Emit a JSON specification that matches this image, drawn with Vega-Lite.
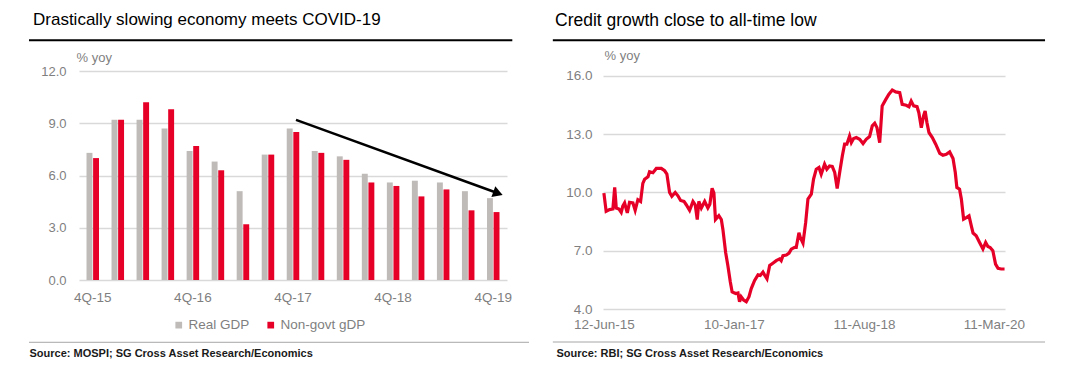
{
  "$schema": "https://vega.github.io/schema/vega-lite/v6.json",
  "background": "white",
  "padding": {"left": 27, "top": 11, "right": 5, "bottom": 5},
  "columns": 2,
  "align": "none",
  "spacing": 21,
  "config": {
    "font": "Liberation Sans",
    "view": {"stroke": null},
    "axis": {"labelFont": "Liberation Sans", "titleFont": "Liberation Sans"},
    "legend": {"labelFont": "Liberation Sans"},
    "title": {"font": "Liberation Sans"}
  },
  "concat": [
    {
      "width": 428,
      "height": 209,
      "title": {"text": "Drastically slowing economy meets COVID-19", "anchor": "start", "frame": "group", "dx": -46, "fontSize": 17, "fontWeight": "normal", "color": "#000000", "offset": 10},
      "resolve": {"scale": {"x": "independent"}},
      "layer": [
        {
          "data": {"values": [
            {"q": "4Q-15", "s": "Real GDP", "v": 7.3}, {"q": "4Q-15", "s": "Non-govt gDP", "v": 7.0},
            {"q": "1Q-16", "s": "Real GDP", "v": 9.2}, {"q": "1Q-16", "s": "Non-govt gDP", "v": 9.2},
            {"q": "2Q-16", "s": "Real GDP", "v": 9.2}, {"q": "2Q-16", "s": "Non-govt gDP", "v": 10.2},
            {"q": "3Q-16", "s": "Real GDP", "v": 8.7}, {"q": "3Q-16", "s": "Non-govt gDP", "v": 9.8},
            {"q": "4Q-16", "s": "Real GDP", "v": 7.4}, {"q": "4Q-16", "s": "Non-govt gDP", "v": 7.7},
            {"q": "1Q-17", "s": "Real GDP", "v": 6.8}, {"q": "1Q-17", "s": "Non-govt gDP", "v": 6.3},
            {"q": "2Q-17", "s": "Real GDP", "v": 5.1}, {"q": "2Q-17", "s": "Non-govt gDP", "v": 3.2},
            {"q": "3Q-17", "s": "Real GDP", "v": 7.2}, {"q": "3Q-17", "s": "Non-govt gDP", "v": 7.2},
            {"q": "4Q-17", "s": "Real GDP", "v": 8.7}, {"q": "4Q-17", "s": "Non-govt gDP", "v": 8.5},
            {"q": "1Q-18", "s": "Real GDP", "v": 7.4}, {"q": "1Q-18", "s": "Non-govt gDP", "v": 7.3},
            {"q": "2Q-18", "s": "Real GDP", "v": 7.1}, {"q": "2Q-18", "s": "Non-govt gDP", "v": 6.9},
            {"q": "3Q-18", "s": "Real GDP", "v": 6.1}, {"q": "3Q-18", "s": "Non-govt gDP", "v": 5.6},
            {"q": "4Q-18", "s": "Real GDP", "v": 5.6}, {"q": "4Q-18", "s": "Non-govt gDP", "v": 5.4},
            {"q": "1Q-19", "s": "Real GDP", "v": 5.7}, {"q": "1Q-19", "s": "Non-govt gDP", "v": 4.8},
            {"q": "2Q-19", "s": "Real GDP", "v": 5.6}, {"q": "2Q-19", "s": "Non-govt gDP", "v": 5.2},
            {"q": "3Q-19", "s": "Real GDP", "v": 5.1}, {"q": "3Q-19", "s": "Non-govt gDP", "v": 4.0},
            {"q": "4Q-19", "s": "Real GDP", "v": 4.7}, {"q": "4Q-19", "s": "Non-govt gDP", "v": 3.9}
          ]},
          "mark": {"type": "bar"},
          "encoding": {
            "x": {"field": "q", "type": "nominal", "sort": null,
              "scale": {"paddingInner": 0.5, "paddingOuter": 0.3},
              "axis": {"values": ["4Q-15", "4Q-16", "4Q-17", "4Q-18", "4Q-19"], "labelAngle": 0, "ticks": false, "domain": false, "labelPadding": 10, "labelFontSize": 13.5, "labelColor": "#7f7f7f",
                "title": "Source: MOSPI; SG Cross Asset Research/Economics", "titleAnchor": "start", "titleAlign": "left", "titleBaseline": "middle", "titleX": -50, "titleY": 73, "titleFontSize": 11, "titleFontWeight": "bold", "titleColor": "#1a1a1a"}},
            "xOffset": {"field": "s", "type": "nominal", "sort": ["Real GDP", "Non-govt gDP"], "scale": {"paddingInner": 0.1}},
            "y": {"field": "v", "type": "quantitative", "scale": {"domain": [0, 12], "nice": false},
              "axis": {"values": [0, 3, 6, 9, 12], "format": ".1f", "ticks": false, "domain": false, "grid": true, "gridColor": "#d9d9d9", "gridWidth": 1.5, "labelPadding": 13, "labelFontSize": 13, "labelColor": "#7f7f7f",
                "title": "% yoy", "titleAngle": 0, "titleAlign": "left", "titleBaseline": "middle", "titleX": -3, "titleY": -14, "titleFontSize": 13, "titleFontWeight": "normal", "titleColor": "#7f7f7f"}},
            "color": {"field": "s", "type": "nominal", "sort": ["Real GDP", "Non-govt gDP"],
              "scale": {"domain": ["Real GDP", "Non-govt gDP"], "range": ["#bfbbb9", "#e60028"]},
              "legend": {"orient": "none", "legendX": 93, "legendY": 247, "direction": "horizontal", "title": null, "symbolType": "square", "symbolSize": 45, "symbolStrokeWidth": 0, "labelFontSize": 13.5, "labelColor": "#7f7f7f", "columnPadding": 14, "labelOffset": 3}}
          }
        },
        {
          "data": {"values": [{}]},
          "layer": [
            {
              "mark": {"type": "rule", "color": "#000000", "strokeWidth": 2.5, "clip": false},
              "encoding": {
                "x": {"datum": 8.12, "type": "quantitative", "scale": {"domain": [-0.55, 16.55], "nice": false, "zero": false}, "axis": null},
                "x2": {"datum": 16.19},
                "y": {"datum": 9.19, "type": "quantitative", "scale": {"domain": [0, 12], "nice": false}},
                "y2": {"datum": 4.98}
              }
            },
            {
              "mark": {"type": "point", "shape": "triangle-right", "filled": true, "color": "#000000", "size": 130, "angle": 20, "opacity": 1, "clip": false},
              "encoding": {
                "x": {"datum": 16.19, "type": "quantitative", "scale": {"domain": [-0.55, 16.55], "nice": false, "zero": false}, "axis": null},
                "y": {"datum": 4.98, "type": "quantitative", "scale": {"domain": [0, 12], "nice": false}}
              }
            },
            {
              "mark": {"type": "rule", "color": "#000000", "strokeWidth": 2, "clip": false},
              "encoding": {
                "x": {"datum": -2.548, "type": "quantitative", "scale": {"domain": [-0.55, 16.55], "nice": false, "zero": false}, "axis": null},
                "x2": {"datum": 16.762},
                "y": {"datum": 13.76, "type": "quantitative", "scale": {"domain": [0, 12], "nice": false}}
              }
            },
            {
              "mark": {"type": "rule", "color": "#a6a6a6", "strokeWidth": 1, "clip": false},
              "encoding": {
                "x": {"datum": -2.548, "type": "quantitative", "scale": {"domain": [-0.55, 16.55], "nice": false, "zero": false}, "axis": null},
                "x2": {"datum": 17.429},
                "y": {"datum": -3.576, "type": "quantitative", "scale": {"domain": [0, 12], "nice": false}}
              }
            }
          ]
        }
      ]
    },
    {
      "width": 402,
      "height": 238,
      "title": {"text": "Credit growth close to all-time low", "anchor": "start", "frame": "group", "dx": -48, "fontSize": 17.5, "fontWeight": "normal", "color": "#000000", "offset": 10},
      "layer": [
        {
          "data": {"values": [
            {"d": "2015-06-12", "v": 9.97}, {"d": "2015-06-22", "v": 9.03}, {"d": "2015-07-07", "v": 9.12}, {"d": "2015-07-22", "v": 9.15},
            {"d": "2015-07-30", "v": 10.27}, {"d": "2015-08-06", "v": 9.2}, {"d": "2015-08-18", "v": 9.15}, {"d": "2015-08-28", "v": 8.98},
            {"d": "2015-09-04", "v": 9.3}, {"d": "2015-09-12", "v": 9.46}, {"d": "2015-09-24", "v": 8.95}, {"d": "2015-10-04", "v": 9.49},
            {"d": "2015-10-19", "v": 9.46}, {"d": "2015-10-29", "v": 9.08}, {"d": "2015-11-10", "v": 9.63}, {"d": "2015-11-22", "v": 9.54},
            {"d": "2015-12-02", "v": 10.47}, {"d": "2015-12-10", "v": 10.68}, {"d": "2015-12-25", "v": 10.81}, {"d": "2016-01-01", "v": 11.07},
            {"d": "2016-01-16", "v": 11.02}, {"d": "2016-01-31", "v": 11.24}, {"d": "2016-02-22", "v": 11.24}, {"d": "2016-03-08", "v": 11.12},
            {"d": "2016-03-18", "v": 10.95}, {"d": "2016-03-30", "v": 10.0}, {"d": "2016-04-09", "v": 9.8}, {"d": "2016-04-24", "v": 10.0},
            {"d": "2016-05-06", "v": 9.83}, {"d": "2016-05-18", "v": 9.59}, {"d": "2016-06-02", "v": 9.54}, {"d": "2016-06-12", "v": 9.37},
            {"d": "2016-06-27", "v": 9.08}, {"d": "2016-07-12", "v": 9.54}, {"d": "2016-07-22", "v": 9.37}, {"d": "2016-07-31", "v": 8.61},
            {"d": "2016-08-07", "v": 9.54}, {"d": "2016-08-18", "v": 9.2}, {"d": "2016-09-02", "v": 9.54}, {"d": "2016-09-16", "v": 9.2},
            {"d": "2016-09-25", "v": 9.4}, {"d": "2016-10-05", "v": 10.22}, {"d": "2016-10-13", "v": 9.97}, {"d": "2016-10-20", "v": 8.61},
            {"d": "2016-11-04", "v": 8.81}, {"d": "2016-11-15", "v": 8.61}, {"d": "2016-11-22", "v": 8.1}, {"d": "2016-12-04", "v": 6.92},
            {"d": "2016-12-14", "v": 6.24}, {"d": "2016-12-25", "v": 5.39}, {"d": "2017-01-02", "v": 4.88}, {"d": "2017-01-18", "v": 4.8},
            {"d": "2017-01-28", "v": 4.83}, {"d": "2017-02-04", "v": 4.37}, {"d": "2017-02-11", "v": 4.63}, {"d": "2017-02-22", "v": 4.46},
            {"d": "2017-03-06", "v": 4.37}, {"d": "2017-03-18", "v": 4.63}, {"d": "2017-03-28", "v": 5.05}, {"d": "2017-04-12", "v": 5.47},
            {"d": "2017-04-27", "v": 5.76}, {"d": "2017-05-07", "v": 5.73}, {"d": "2017-05-19", "v": 5.9}, {"d": "2017-05-26", "v": 5.76},
            {"d": "2017-06-06", "v": 5.56}, {"d": "2017-06-18", "v": 6.24}, {"d": "2017-07-02", "v": 6.36}, {"d": "2017-07-17", "v": 6.49},
            {"d": "2017-08-01", "v": 6.58}, {"d": "2017-08-08", "v": 6.49}, {"d": "2017-08-16", "v": 6.75}, {"d": "2017-08-31", "v": 6.78},
            {"d": "2017-09-12", "v": 6.88}, {"d": "2017-09-22", "v": 7.08}, {"d": "2017-10-07", "v": 7.17}, {"d": "2017-10-14", "v": 7.17},
            {"d": "2017-10-26", "v": 7.93}, {"d": "2017-11-01", "v": 7.68}, {"d": "2017-11-13", "v": 7.39}, {"d": "2017-11-25", "v": 8.46},
            {"d": "2017-12-05", "v": 9.66}, {"d": "2017-12-20", "v": 9.91}, {"d": "2017-12-30", "v": 10.69}, {"d": "2018-01-11", "v": 11.2},
            {"d": "2018-01-23", "v": 11.29}, {"d": "2018-02-02", "v": 10.94}, {"d": "2018-02-17", "v": 11.46}, {"d": "2018-02-27", "v": 11.2},
            {"d": "2018-03-11", "v": 11.37}, {"d": "2018-03-23", "v": 11.34}, {"d": "2018-04-03", "v": 11.03}, {"d": "2018-04-14", "v": 10.21},
            {"d": "2018-04-25", "v": 11.03}, {"d": "2018-05-07", "v": 11.89}, {"d": "2018-05-17", "v": 12.49}, {"d": "2018-05-27", "v": 12.49},
            {"d": "2018-06-08", "v": 12.91}, {"d": "2018-06-16", "v": 12.57}, {"d": "2018-06-26", "v": 12.78}, {"d": "2018-07-08", "v": 12.83},
            {"d": "2018-07-23", "v": 12.74}, {"d": "2018-08-07", "v": 12.52}, {"d": "2018-08-21", "v": 12.74}, {"d": "2018-09-05", "v": 12.88},
            {"d": "2018-09-17", "v": 13.43}, {"d": "2018-09-28", "v": 13.57}, {"d": "2018-10-08", "v": 13.34}, {"d": "2018-10-20", "v": 12.57},
            {"d": "2018-10-31", "v": 14.46}, {"d": "2018-11-15", "v": 14.77}, {"d": "2018-11-30", "v": 15.06}, {"d": "2018-12-15", "v": 15.28},
            {"d": "2018-12-30", "v": 15.18}, {"d": "2019-01-17", "v": 15.14}, {"d": "2019-01-28", "v": 14.54}, {"d": "2019-02-15", "v": 14.49},
            {"d": "2019-02-27", "v": 14.42}, {"d": "2019-03-09", "v": 14.71}, {"d": "2019-03-20", "v": 14.46}, {"d": "2019-04-04", "v": 14.42},
            {"d": "2019-04-12", "v": 14.11}, {"d": "2019-04-23", "v": 13.34}, {"d": "2019-05-03", "v": 13.94}, {"d": "2019-05-10", "v": 14.2},
            {"d": "2019-05-18", "v": 13.6}, {"d": "2019-05-27", "v": 13.09}, {"d": "2019-06-11", "v": 12.83}, {"d": "2019-06-26", "v": 12.49},
            {"d": "2019-07-14", "v": 12.02}, {"d": "2019-07-28", "v": 11.92}, {"d": "2019-08-12", "v": 11.97}, {"d": "2019-08-27", "v": 12.09},
            {"d": "2019-09-11", "v": 11.75}, {"d": "2019-09-21", "v": 11.03}, {"d": "2019-09-28", "v": 10.26}, {"d": "2019-10-10", "v": 10.17},
            {"d": "2019-10-18", "v": 9.66}, {"d": "2019-10-28", "v": 8.63}, {"d": "2019-11-09", "v": 8.71}, {"d": "2019-11-21", "v": 8.8},
            {"d": "2019-12-01", "v": 8.29}, {"d": "2019-12-09", "v": 7.91}, {"d": "2019-12-23", "v": 7.77}, {"d": "2020-01-07", "v": 7.43},
            {"d": "2020-01-22", "v": 7.09}, {"d": "2020-02-03", "v": 7.43}, {"d": "2020-02-13", "v": 7.22}, {"d": "2020-02-23", "v": 7.17},
            {"d": "2020-03-06", "v": 7.0}, {"d": "2020-03-18", "v": 6.31}, {"d": "2020-03-29", "v": 6.09}, {"d": "2020-04-12", "v": 6.06},
            {"d": "2020-04-27", "v": 6.06}
          ]},
          "mark": {"type": "line", "color": "#e60028", "strokeWidth": 3.2},
          "encoding": {
            "x": {"field": "d", "type": "temporal",
              "scale": {"type": "utc", "domain": [{"year": 2015, "month": 6, "date": 8, "utc": true}, {"year": 2020, "month": 4, "date": 29, "utc": true}]},
              "axis": {"values": [{"year": 2015, "month": 6, "date": 12, "utc": true}, {"year": 2017, "month": 1, "date": 10, "utc": true}, {"year": 2018, "month": 8, "date": 11, "utc": true}, {"year": 2020, "month": 3, "date": 11, "utc": true}],
                "format": "%d-%b-%y", "labelFlush": false, "labelOverlap": false, "ticks": false, "domain": false, "grid": false, "labelPadding": 8, "labelFontSize": 13.5, "labelColor": "#7f7f7f",
                "title": "Source: RBI; SG Cross Asset Research/Economics", "titleAnchor": "start", "titleAlign": "left", "titleBaseline": "middle", "titleX": -47, "titleY": 44, "titleFontSize": 11, "titleFontWeight": "bold", "titleColor": "#1a1a1a"}},
            "y": {"field": "v", "type": "quantitative", "scale": {"domain": [4, 16.2575], "nice": false, "zero": false},
              "axis": {"values": [4, 7, 10, 13, 16], "format": ".1f", "ticks": false, "domain": false, "grid": true, "gridColor": "#d9d9d9", "gridWidth": 1.5, "labelPadding": 11, "labelFontSize": 13.5, "labelColor": "#7f7f7f",
                "title": "% yoy", "titleAngle": 0, "titleAlign": "left", "titleBaseline": "middle", "titleX": 1, "titleY": -16, "titleFontSize": 13, "titleFontWeight": "normal", "titleColor": "#7f7f7f"}}
          }
        },
        {
          "data": {"values": [{}]},
          "layer": [
            {
              "mark": {"type": "rule", "color": "#000000", "strokeWidth": 2, "clip": false},
              "encoding": {
                "x": {"datum": {"year": 2014, "month": 10, "date": 28, "utc": true}, "type": "temporal", "scale": {"type": "utc", "domain": [{"year": 2015, "month": 6, "date": 8, "utc": true}, {"year": 2020, "month": 4, "date": 29, "utc": true}]}},
                "x2": {"datum": {"year": 2020, "month": 10, "date": 24, "utc": true}},
                "y": {"datum": 17.84, "type": "quantitative", "scale": {"domain": [4, 16.2575], "nice": false, "zero": false}}
              }
            },
            {
              "mark": {"type": "rule", "color": "#a6a6a6", "strokeWidth": 1, "clip": false},
              "encoding": {
                "x": {"datum": {"year": 2014, "month": 10, "date": 28, "utc": true}, "type": "temporal", "scale": {"type": "utc", "domain": [{"year": 2015, "month": 6, "date": 8, "utc": true}, {"year": 2020, "month": 4, "date": 29, "utc": true}]}},
                "x2": {"datum": {"year": 2020, "month": 10, "date": 24, "utc": true}},
                "y": {"datum": 2.3, "type": "quantitative", "scale": {"domain": [4, 16.2575], "nice": false, "zero": false}}
              }
            }
          ]
        }
      ]
    }
  ]
}
